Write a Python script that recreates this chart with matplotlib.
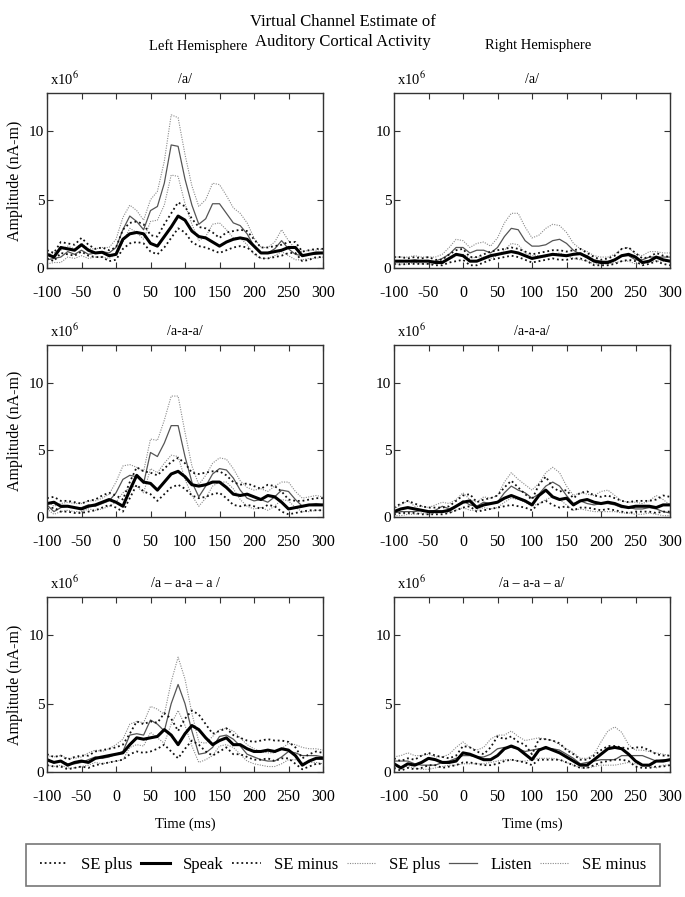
import numpy as np
import matplotlib
matplotlib.use("Agg")
import matplotlib.pyplot as plt
from matplotlib.lines import Line2D

plt.rcParams['font.family'] = ['Liberation Serif', 'DejaVu Serif']
plt.rcParams['mathtext.fontset'] = 'stix'
plt.rcParams['axes.unicode_minus'] = False

# time axis (ms), one value every 10 ms
t = np.arange(-100, 301, 10)

# ---- Left hemisphere /a/ ----
la_speak = [1.0, 0.8, 1.5, 1.4, 1.3, 1.7, 1.3, 1.1, 1.15, 0.9, 1.0, 2.1, 2.5, 2.6, 2.5, 1.8, 1.6, 2.3, 3.0, 3.8, 3.5,
            2.7, 2.3, 2.2, 1.9, 1.6, 1.9, 2.1, 2.2, 2.1, 1.6, 1.1, 1.1, 1.2, 1.3, 1.5, 1.5, 0.9, 1.0, 1.1, 1.1]
la_speak_up = [1.3, 1.1, 1.9, 1.8, 1.7, 2.2, 1.7, 1.4, 1.5, 1.3, 1.5, 2.8, 3.3, 3.4, 3.2, 2.4, 2.3, 3.2, 4.0, 4.8, 4.5,
               3.6, 3.0, 2.9, 2.6, 2.2, 2.6, 2.7, 2.8, 2.7, 2.1, 1.5, 1.5, 1.6, 1.7, 1.9, 1.9, 1.2, 1.3, 1.4, 1.4]
la_speak_lo = [0.7, 0.5, 1.1, 1.0, 0.9, 1.2, 0.9, 0.8, 0.8, 0.5, 0.6, 1.4, 1.8, 1.9, 1.8, 1.2, 1.0, 1.5, 2.2, 2.9, 2.6,
               1.9, 1.6, 1.5, 1.3, 1.1, 1.3, 1.5, 1.6, 1.5, 1.1, 0.7, 0.7, 0.8, 0.9, 1.1, 1.1, 0.5, 0.6, 0.8, 0.8]
la_listen = [0.6, 0.7, 0.8, 1.2, 1.0, 1.3, 1.0, 1.1, 1.2, 1.1, 1.5, 2.8, 3.8, 3.4, 2.8, 4.2, 4.5, 6.2, 9.0, 8.9, 6.5,
             4.6, 3.2, 3.6, 4.7, 4.7, 4.0, 3.3, 3.1, 2.5, 1.6, 1.1, 1.1, 1.4, 2.0, 1.4, 1.0, 0.9, 1.0, 1.0, 1.1]
la_listen_up = [1.0, 1.1, 1.3, 1.6, 1.4, 1.8, 1.4, 1.4, 1.5, 1.5, 2.1, 3.7, 4.6, 4.2, 3.5, 5.0, 5.6, 7.8, 11.2, 11.0, 8.3,
                6.0, 4.5, 5.0, 6.2, 6.1, 5.3, 4.4, 4.0, 3.3, 2.2, 1.5, 1.5, 1.9, 2.8, 2.0, 1.4, 1.2, 1.3, 1.3, 1.4]
la_listen_lo = [0.3, 0.4, 0.4, 0.8, 0.7, 0.9, 0.7, 0.8, 0.8, 0.7, 1.0, 1.9, 2.9, 2.6, 2.1, 3.4, 3.5, 4.6, 6.8, 6.7, 4.7,
                3.2, 2.0, 2.3, 3.2, 3.3, 2.8, 2.2, 2.2, 1.7, 1.0, 0.7, 0.7, 0.9, 1.2, 0.9, 0.6, 0.6, 0.7, 0.7, 0.8]

# ---- Right hemisphere /a/ ----
ra_speak = [0.5, 0.5, 0.5, 0.5, 0.5, 0.5, 0.4, 0.4, 0.7, 1.0, 0.9, 0.5, 0.5, 0.7, 0.9, 1.0, 1.1, 1.2, 1.1, 0.9, 0.7,
            0.8, 0.9, 1.0, 0.95, 0.9, 1.0, 1.05, 0.8, 0.5, 0.4, 0.4, 0.6, 0.9, 1.0, 0.8, 0.4, 0.5, 0.8, 0.6, 0.5]
ra_speak_up = [0.8, 0.8, 0.7, 0.8, 0.7, 0.8, 0.6, 0.6, 1.0, 1.3, 1.4, 0.8, 0.8, 1.0, 1.2, 1.3, 1.4, 1.5, 1.4, 1.2, 1.0,
               1.1, 1.2, 1.3, 1.3, 1.2, 1.3, 1.4, 1.1, 0.8, 0.6, 0.7, 0.9, 1.4, 1.5, 1.1, 0.7, 0.8, 1.1, 0.9, 0.8]
ra_speak_lo = [0.3, 0.25, 0.3, 0.3, 0.3, 0.3, 0.2, 0.2, 0.4, 0.5, 0.6, 0.2, 0.2, 0.4, 0.6, 0.7, 0.8, 0.9, 0.8, 0.6, 0.4,
               0.5, 0.6, 0.7, 0.6, 0.6, 0.7, 0.7, 0.5, 0.2, 0.2, 0.2, 0.3, 0.5, 0.6, 0.5, 0.2, 0.3, 0.5, 0.3, 0.2]
ra_listen = [0.5, 0.5, 0.5, 0.6, 0.5, 0.5, 0.5, 0.7, 1.0, 1.5, 1.5, 1.1, 1.3, 1.3, 1.1, 1.5, 2.3, 2.9, 2.8, 2.0, 1.6,
             1.6, 1.7, 2.0, 2.1, 1.8, 1.3, 1.0, 0.9, 0.6, 0.5, 0.5, 0.6, 0.9, 0.9, 0.6, 0.6, 0.8, 0.8, 0.8, 0.8]
ra_listen_up = [0.8, 0.8, 0.8, 0.9, 0.8, 0.8, 0.8, 1.0, 1.5, 2.1, 2.0, 1.5, 1.8, 1.9, 1.6, 2.2, 3.3, 4.0, 4.0, 3.0, 2.2,
                2.4, 2.9, 3.2, 3.1, 2.6, 1.8, 1.4, 1.2, 0.9, 0.8, 0.8, 1.0, 1.4, 1.5, 1.0, 0.9, 1.2, 1.2, 1.1, 1.1]
ra_listen_lo = [0.3, 0.3, 0.3, 0.4, 0.3, 0.3, 0.3, 0.4, 0.6, 0.9, 1.0, 0.7, 0.8, 0.8, 0.7, 0.9, 1.3, 1.8, 1.7, 1.1, 0.9,
                0.9, 0.8, 1.0, 1.1, 0.9, 0.7, 0.6, 0.5, 0.3, 0.3, 0.3, 0.4, 0.5, 0.5, 0.3, 0.3, 0.5, 0.5, 0.5, 0.5]

# ---- Left hemisphere /a-a-a/ ----
laaa_speak = [1.0, 1.1, 0.8, 0.8, 0.7, 0.6, 0.8, 0.9, 1.1, 1.3, 1.1, 0.8, 2.0, 3.1, 2.6, 2.5, 2.0, 2.6, 3.2, 3.4, 3.0,
              2.4, 2.3, 2.4, 2.6, 2.6, 2.2, 1.7, 1.6, 1.7, 1.5, 1.3, 1.6, 1.5, 1.1, 0.6, 0.7, 0.8, 0.9, 0.9, 0.9]
laaa_speak_up = [1.4, 1.5, 1.2, 1.2, 1.1, 1.0, 1.2, 1.3, 1.6, 1.8, 1.6, 1.3, 2.6, 3.7, 3.4, 3.3, 3.1, 3.6, 4.1, 4.4, 4.0,
                 3.3, 3.2, 3.3, 3.4, 3.4, 3.1, 2.6, 2.4, 2.5, 2.3, 2.1, 2.4, 2.3, 1.9, 1.3, 1.2, 1.2, 1.3, 1.4, 1.4]
laaa_speak_lo = [0.6, 0.7, 0.4, 0.4, 0.3, 0.3, 0.4, 0.5, 0.7, 0.9, 0.7, 0.4, 1.4, 2.4, 1.9, 1.7, 1.2, 1.7, 2.2, 2.4, 2.1,
                 1.6, 1.4, 1.5, 1.7, 1.8, 1.4, 0.9, 0.8, 0.9, 0.8, 0.6, 0.9, 0.8, 0.4, 0.2, 0.3, 0.4, 0.5, 0.5, 0.5]
laaa_listen = [0.9, 0.4, 0.7, 0.8, 0.7, 0.7, 0.9, 0.8, 1.0, 1.2, 1.8, 2.8, 3.1, 3.0, 2.5, 4.8, 4.5, 5.5, 6.8, 6.8, 4.5,
               2.6, 1.5, 2.3, 3.2, 3.6, 3.5, 2.9, 2.0, 1.4, 1.2, 1.3, 1.1, 1.5, 2.0, 1.9, 1.3, 0.8, 0.9, 1.0, 0.9]
laaa_listen_up = [1.2, 0.8, 1.0, 1.1, 1.0, 1.0, 1.2, 1.2, 1.4, 1.7, 2.6, 3.8, 3.9, 3.7, 3.4, 5.8, 5.7, 7.2, 9.0, 9.0, 6.3,
                  3.8, 2.4, 3.1, 4.0, 4.4, 4.3, 3.6, 2.7, 2.2, 2.0, 2.1, 1.9, 2.3, 2.6, 2.6, 1.9, 1.4, 1.5, 1.6, 1.5]
laaa_listen_lo = [0.6, 0.2, 0.4, 0.5, 0.4, 0.4, 0.6, 0.5, 0.6, 0.8, 1.1, 1.8, 2.2, 2.3, 1.8, 3.6, 3.3, 4.0, 4.6, 4.5, 2.8,
                  1.6, 0.8, 1.4, 2.3, 2.6, 2.6, 2.1, 1.3, 0.8, 0.6, 0.7, 0.5, 0.8, 1.3, 1.2, 0.7, 0.4, 0.4, 0.5, 0.5]

# ---- Right hemisphere /a-a-a/ ----
raaa_speak = [0.4, 0.6, 0.7, 0.6, 0.5, 0.4, 0.4, 0.4, 0.5, 0.8, 1.1, 1.2, 0.7, 0.9, 1.0, 1.1, 1.4, 1.6, 1.4, 1.2, 0.9,
              1.6, 2.0, 1.5, 1.3, 1.4, 0.9, 1.2, 1.3, 1.1, 1.0, 1.1, 1.0, 0.8, 0.7, 0.8, 0.8, 0.8, 0.7, 0.9, 0.9]
raaa_speak_up = [0.7, 1.0, 1.2, 1.0, 0.8, 0.7, 0.7, 0.7, 0.8, 1.2, 1.6, 1.7, 1.1, 1.3, 1.4, 1.6, 2.2, 2.7, 2.2, 1.7, 1.3,
                 2.4, 3.0, 2.2, 1.9, 2.0, 1.4, 1.8, 1.9, 1.6, 1.5, 1.6, 1.4, 1.2, 1.1, 1.2, 1.2, 1.2, 1.3, 1.6, 1.5]
raaa_speak_lo = [0.2, 0.3, 0.3, 0.3, 0.2, 0.2, 0.2, 0.2, 0.3, 0.5, 0.7, 0.8, 0.4, 0.5, 0.6, 0.7, 0.8, 0.9, 0.8, 0.7, 0.5,
                 1.0, 1.2, 0.9, 0.7, 0.8, 0.5, 0.7, 0.7, 0.6, 0.5, 0.6, 0.5, 0.4, 0.3, 0.4, 0.4, 0.4, 0.3, 0.4, 0.4]
raaa_listen = [0.3, 0.4, 0.4, 0.4, 0.5, 0.4, 0.5, 0.8, 0.6, 0.8, 1.2, 0.9, 0.8, 1.1, 1.0, 1.1, 1.8, 2.3, 2.0, 1.8, 1.4,
               1.7, 2.3, 2.6, 2.3, 1.6, 1.0, 1.2, 1.0, 0.9, 1.0, 1.0, 0.9, 0.7, 0.7, 0.6, 0.6, 0.7, 0.6, 0.4, 0.3]
raaa_listen_up = [0.6, 0.9, 1.2, 0.8, 0.8, 0.7, 0.9, 1.1, 1.0, 1.3, 1.8, 1.3, 1.1, 1.5, 1.4, 1.6, 2.6, 3.3, 2.8, 2.4, 2.0,
                  2.5, 3.3, 3.7, 3.3, 2.3, 1.6, 1.8, 1.7, 1.6, 1.9, 2.0, 1.6, 1.2, 1.1, 1.1, 1.0, 1.2, 1.6, 1.3, 0.9]
raaa_listen_lo = [0.1, 0.1, 0.2, 0.2, 0.3, 0.2, 0.3, 0.4, 0.3, 0.5, 0.7, 0.5, 0.5, 0.7, 0.6, 0.7, 1.1, 1.4, 1.3, 1.1, 0.8,
                  1.0, 1.3, 1.5, 1.3, 0.9, 0.5, 0.6, 0.5, 0.4, 0.4, 0.4, 0.4, 0.3, 0.3, 0.2, 0.2, 0.3, 0.2, 0.1, 0.1]

# ---- Left hemisphere /a - a-a - a/ ----
lmix_speak = [0.9, 0.7, 0.8, 0.5, 0.7, 0.8, 0.7, 1.0, 1.1, 1.2, 1.3, 1.4, 2.0, 2.5, 2.4, 2.5, 2.6, 3.1, 2.7, 2.0, 2.8,
              3.4, 3.1, 2.5, 2.0, 2.3, 2.5, 2.0, 2.0, 1.7, 1.5, 1.5, 1.6, 1.5, 1.7, 1.6, 1.2, 0.5, 0.8, 1.0, 1.0]
lmix_speak_up = [1.3, 1.1, 1.2, 0.9, 1.1, 1.2, 1.2, 1.5, 1.6, 1.7, 1.8, 2.0, 2.8, 3.7, 3.5, 3.7, 3.6, 4.3, 3.9, 3.0, 3.9,
                 4.5, 4.2, 3.5, 2.8, 3.0, 3.2, 2.7, 2.5, 2.3, 2.2, 2.3, 2.4, 2.3, 2.3, 2.2, 1.8, 1.0, 1.3, 1.5, 1.4]
lmix_speak_lo = [0.5, 0.4, 0.4, 0.2, 0.3, 0.4, 0.3, 0.5, 0.6, 0.7, 0.8, 0.9, 1.3, 1.5, 1.4, 1.5, 1.7, 2.0, 1.5, 1.0, 1.7,
                 2.3, 2.0, 1.5, 1.2, 1.5, 1.8, 1.3, 1.3, 1.1, 0.9, 0.9, 1.0, 0.8, 1.0, 1.0, 0.6, 0.2, 0.4, 0.6, 0.6]
lmix_listen = [0.8, 0.7, 0.8, 0.6, 0.6, 0.7, 0.9, 1.1, 1.0, 1.1, 1.3, 1.5, 2.7, 2.8, 2.7, 3.8, 3.5, 3.0, 5.0, 6.4, 5.0,
               3.0, 1.3, 1.4, 1.8, 2.6, 2.7, 2.4, 1.9, 1.3, 1.1, 0.9, 0.8, 0.8, 1.1, 1.5, 1.4, 1.2, 1.2, 1.2, 1.1]
lmix_listen_up = [1.2, 1.1, 1.2, 1.0, 1.0, 1.1, 1.4, 1.6, 1.5, 1.7, 2.0, 2.4, 3.5, 3.7, 3.6, 4.8, 4.6, 4.2, 6.6, 8.4, 6.8,
                  4.3, 2.2, 2.1, 2.6, 3.1, 3.2, 3.0, 2.5, 2.0, 1.7, 1.5, 1.4, 1.4, 1.7, 2.1, 2.0, 1.8, 1.7, 1.7, 1.6]
lmix_listen_lo = [0.5, 0.4, 0.5, 0.3, 0.3, 0.4, 0.5, 0.7, 0.6, 0.7, 0.8, 0.9, 1.8, 2.0, 1.9, 2.9, 2.5, 2.1, 3.5, 4.5, 3.4,
                  1.9, 0.7, 0.9, 1.2, 1.9, 2.0, 1.8, 1.3, 0.8, 0.6, 0.5, 0.4, 0.4, 0.6, 0.9, 0.9, 0.7, 0.7, 0.7, 0.6]

# ---- Right hemisphere /a - a-a - a/ ----
rmix_speak = [0.6, 0.3, 0.6, 0.5, 0.7, 1.0, 0.9, 0.7, 0.7, 0.8, 1.4, 1.3, 1.1, 0.9, 0.9, 1.2, 1.7, 1.9, 1.7, 1.3, 0.9,
              1.6, 1.8, 1.6, 1.4, 1.1, 0.8, 0.5, 0.5, 0.9, 1.3, 1.7, 1.8, 1.7, 1.3, 0.8, 0.5, 0.5, 0.8, 0.8, 0.9]
rmix_speak_up = [1.0, 0.8, 1.0, 0.9, 1.2, 1.4, 1.2, 1.1, 1.0, 1.2, 1.9, 1.8, 1.5, 1.3, 1.8, 2.6, 2.4, 2.6, 2.2, 2.0, 1.3,
                 2.4, 2.4, 2.3, 2.1, 1.6, 1.3, 0.9, 0.9, 1.2, 1.6, 1.9, 1.9, 1.8, 1.7, 1.8, 1.8, 1.6, 1.3, 1.2, 1.2]
rmix_speak_lo = [0.3, 0.1, 0.3, 0.2, 0.3, 0.5, 0.5, 0.3, 0.4, 0.5, 0.7, 0.7, 0.6, 0.5, 0.5, 0.6, 0.8, 0.9, 0.8, 0.7, 0.5,
                 0.9, 0.9, 0.9, 0.9, 0.7, 0.5, 0.3, 0.3, 0.5, 0.7, 0.8, 0.9, 0.9, 0.8, 0.4, 0.3, 0.3, 0.4, 0.4, 0.5]
rmix_listen = [0.8, 0.8, 0.8, 0.6, 0.5, 0.5, 0.5, 0.7, 0.8, 1.0, 1.2, 1.2, 1.1, 1.1, 1.3, 1.7, 1.8, 1.8, 1.7, 1.5, 1.6,
               1.7, 1.7, 1.7, 1.6, 1.3, 1.0, 0.6, 0.7, 0.8, 0.9, 0.9, 0.9, 1.2, 1.2, 1.2, 1.2, 1.0, 0.8, 0.9, 0.9]
rmix_listen_up = [1.1, 1.2, 1.4, 1.2, 1.2, 1.3, 1.1, 1.1, 1.3, 1.8, 2.2, 1.8, 1.6, 1.8, 2.4, 2.7, 2.7, 3.0, 2.6, 2.3, 2.4,
                  2.5, 2.4, 2.3, 2.0, 1.7, 1.4, 1.0, 1.0, 1.3, 2.2, 3.0, 3.3, 2.9, 2.0, 1.6, 1.6, 1.5, 1.4, 1.3, 1.2]
rmix_listen_lo = [0.5, 0.4, 0.4, 0.3, 0.2, 0.2, 0.3, 0.4, 0.5, 0.5, 0.6, 0.6, 0.6, 0.6, 0.7, 0.8, 0.9, 0.9, 0.8, 0.8, 0.9,
                  1.0, 1.0, 1.0, 0.9, 0.7, 0.5, 0.3, 0.3, 0.4, 0.5, 0.5, 0.5, 0.6, 0.7, 0.6, 0.5, 0.4, 0.3, 0.5, 0.5]

panel_titles = ['/a/', '/a/', '/a-a-a/', '/a-a-a/', '/a \u2013 a-a \u2013 a /', '/a \u2013 a-a \u2013 a/']
panels = [
    (la_speak, la_speak_up, la_speak_lo, la_listen, la_listen_up, la_listen_lo),
    (ra_speak, ra_speak_up, ra_speak_lo, ra_listen, ra_listen_up, ra_listen_lo),
    (laaa_speak, laaa_speak_up, laaa_speak_lo, laaa_listen, laaa_listen_up, laaa_listen_lo),
    (raaa_speak, raaa_speak_up, raaa_speak_lo, raaa_listen, raaa_listen_up, raaa_listen_lo),
    (lmix_speak, lmix_speak_up, lmix_speak_lo, lmix_listen, lmix_listen_up, lmix_listen_lo),
    (rmix_speak, rmix_speak_up, rmix_speak_lo, rmix_listen, rmix_listen_up, rmix_listen_lo),
]

W, H = 685, 897
fig = plt.figure(figsize=(W / 100, H / 100), dpi=100)

# axes boxes in pixels: left, right, top, bottom
cols = [(47, 323), (394, 670)]
rows = [(93, 268), (345, 517), (597, 772)]

speak_kw = dict(color='black', lw=2.2)
speak_se_kw = dict(color='#111111', lw=1.3, ls=(0, (1, 1.6)))
listen_kw = dict(color='#555555', lw=0.9)
listen_se_kw = dict(color='#8a8a8a', lw=0.8, ls=(0, (1, 1.2)))

for i, series in enumerate(panels):
    r, c = divmod(i, 2)
    x0, x1 = cols[c]
    y0, y1 = rows[r]
    ax = fig.add_axes([x0 / W, 1 - y1 / H, (x1 - x0) / W, (y1 - y0) / H])
    sp, sp_up, sp_lo, li, li_up, li_lo = series
    ax.plot(t, li_up, **listen_se_kw)
    ax.plot(t, li_lo, **listen_se_kw)
    ax.plot(t, li, **listen_kw)
    ax.plot(t, sp_up, **speak_se_kw)
    ax.plot(t, sp_lo, **speak_se_kw)
    ax.plot(t, sp, **speak_kw)
    ax.set_xlim(-100, 300)
    ax.set_ylim(0, 12.8)
    ax.set_xticks(range(-100, 301, 50))
    ax.set_yticks([0, 5, 10])
    ax.tick_params(direction='in', top=True, right=True, length=4, width=0.8,
                   labelsize=11.5, colors='#333333', labelcolor='black')
    ax.tick_params(axis='x', pad=12)
    ax.tick_params(axis='y', pad=2, labelsize=11)
    for s in ax.spines.values():
        s.set_color('#333333')
        s.set_linewidth(1.0)
    ax.set_title(panel_titles[i], fontsize=10, pad=7)
    ax.text(0.01, 1.03, r'x10$^{6}$', transform=ax.transAxes, fontsize=10.5, va='bottom', ha='left')
    if c == 0:
        ax.set_ylabel('Amplitude (nA-m)', fontsize=11.5, labelpad=4)
    if r == 2:
        ax.set_xlabel('Time (ms)', fontsize=10.5, labelpad=9)

fig.text(0.5, 1 - 32 / H, 'Virtual Channel Estimate of\nAuditory Cortical Activity',
         ha='center', va='center', fontsize=12, linespacing=1.4)
fig.text(198 / W, 1 - 46 / H, 'Left Hemisphere', ha='center', va='center', fontsize=10.5)
fig.text(538 / W, 1 - 46 / H, 'Right Hemisphere', ha='center', va='center', fontsize=10.5)

handles = [
    Line2D([], [], **speak_se_kw),
    Line2D([], [], **speak_kw),
    Line2D([], [], **speak_se_kw),
    Line2D([], [], **listen_se_kw),
    Line2D([], [], **listen_kw),
    Line2D([], [], **listen_se_kw),
]
labels = ['SE plus', 'Speak', 'SE minus', 'SE plus', 'Listen', 'SE minus']
leg = fig.legend(handles, labels, loc='center', ncol=6, fontsize=12,
                 bbox_to_anchor=(18 / W, 1 - 884 / H, 650 / W, 38 / H), mode='expand',
                 fancybox=False, frameon=True, edgecolor='#555555', handlelength=1.7,
                 handletextpad=0.8, borderpad=0.8, columnspacing=0.6)
leg.get_frame().set_linewidth(1.2)

fig.savefig('out.png', dpi=100)
